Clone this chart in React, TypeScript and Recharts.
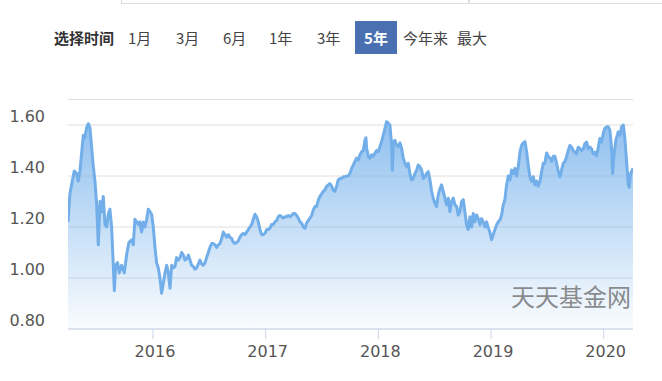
import React from 'react';
import { AreaChart, Area, XAxis, YAxis, CartesianGrid } from 'recharts';

// time as decimal year
const years = [
  2015.246, 2015.263, 2015.284, 2015.302, 2015.323, 2015.337, 2015.352, 2015.367, 2015.382, 2015.396,
  2015.411, 2015.426, 2015.441, 2015.456, 2015.470, 2015.485, 2015.500, 2015.515, 2015.530, 2015.544,
  2015.559, 2015.574, 2015.589, 2015.604, 2015.618, 2015.633, 2015.648, 2015.657, 2015.669, 2015.686,
  2015.701, 2015.722, 2015.746, 2015.766, 2015.787, 2015.811, 2015.825, 2015.840, 2015.855, 2015.870,
  2015.884, 2015.899, 2015.914, 2015.929, 2015.944, 2015.958, 2015.973, 2015.988, 2016.003, 2016.018,
  2016.032, 2016.047, 2016.062, 2016.077,
  2016.107, 2016.122, 2016.136, 2016.151, 2016.166, 2016.181, 2016.195, 2016.210, 2016.225, 2016.240,
  2016.255, 2016.269, 2016.284, 2016.299, 2016.314, 2016.329, 2016.343, 2016.358, 2016.373, 2016.388,
  2016.403, 2016.417, 2016.432, 2016.447, 2016.462, 2016.476, 2016.491, 2016.506, 2016.521, 2016.536,
  2016.550, 2016.565, 2016.580, 2016.595, 2016.610, 2016.624, 2016.639, 2016.654, 2016.669, 2016.683,
  2016.698, 2016.713, 2016.728, 2016.743, 2016.757, 2016.772, 2016.787, 2016.802, 2016.817, 2016.831,
  2016.846, 2016.861, 2016.876, 2016.890, 2016.905,
  2016.920, 2016.935, 2016.949, 2016.964, 2016.979, 2016.994, 2017.009, 2017.023, 2017.038, 2017.053,
  2017.068, 2017.082, 2017.097, 2017.112, 2017.127, 2017.142, 2017.156, 2017.171, 2017.186, 2017.201,
  2017.216, 2017.230, 2017.245, 2017.260, 2017.275, 2017.290, 2017.304, 2017.319, 2017.334, 2017.349,
  2017.363, 2017.378, 2017.393, 2017.408, 2017.423, 2017.437, 2017.452, 2017.467, 2017.482, 2017.497,
  2017.511, 2017.526, 2017.541, 2017.556, 2017.570, 2017.585, 2017.600, 2017.615, 2017.630, 2017.644,
  2017.659, 2017.674, 2017.689, 2017.704, 2017.718, 2017.733,
  2017.748, 2017.763, 2017.778, 2017.792, 2017.807, 2017.822, 2017.837, 2017.852, 2017.866, 2017.881,
  2017.890, 2017.896, 2017.911, 2017.925, 2017.940, 2017.955, 2017.970, 2017.985, 2017.999, 2018.014,
  2018.029, 2018.044, 2018.059, 2018.073, 2018.088, 2018.103, 2018.118, 2018.124, 2018.133, 2018.147,
  2018.162, 2018.177, 2018.192, 2018.206, 2018.221, 2018.236, 2018.251, 2018.266, 2018.280, 2018.295,
  2018.310, 2018.325, 2018.340, 2018.354, 2018.369, 2018.384, 2018.399, 2018.414, 2018.428, 2018.443,
  2018.458, 2018.473, 2018.487, 2018.502, 2018.517, 2018.532, 2018.547, 2018.561, 2018.576,
  2018.606, 2018.621, 2018.635, 2018.650, 2018.665, 2018.680, 2018.695, 2018.709, 2018.724, 2018.739,
  2018.754, 2018.768, 2018.783, 2018.798, 2018.813, 2018.828, 2018.842, 2018.857, 2018.872, 2018.887,
  2018.902, 2018.916, 2018.931, 2018.946, 2018.961, 2018.976, 2018.990, 2019.005, 2019.020, 2019.035,
  2019.049, 2019.064, 2019.079, 2019.094, 2019.109, 2019.123, 2019.138, 2019.153, 2019.168, 2019.183,
  2019.197, 2019.212, 2019.227, 2019.242, 2019.257, 2019.271, 2019.286, 2019.301, 2019.316, 2019.330,
  2019.345, 2019.360, 2019.375, 2019.390, 2019.404, 2019.419,
  2019.434, 2019.449, 2019.464, 2019.478, 2019.493, 2019.508, 2019.523, 2019.538, 2019.552, 2019.567,
  2019.582, 2019.597, 2019.612, 2019.626, 2019.641, 2019.656, 2019.671, 2019.685, 2019.700, 2019.715,
  2019.730, 2019.745, 2019.759, 2019.774, 2019.789, 2019.804, 2019.819, 2019.833, 2019.848, 2019.863,
  2019.878, 2019.892, 2019.907, 2019.922, 2019.937, 2019.952, 2019.966, 2019.981, 2019.996, 2020.011,
  2020.026, 2020.040, 2020.055, 2020.070, 2020.079, 2020.091, 2020.108, 2020.129, 2020.144, 2020.159,
  2020.174, 2020.188, 2020.203, 2020.218, 2020.227, 2020.239, 2020.260,
];

// accumulated net value
const nav = [
  1.22, 1.33, 1.38, 1.42, 1.41, 1.38, 1.42, 1.49, 1.56, 1.55,
  1.59, 1.605, 1.59, 1.51, 1.44, 1.38, 1.29, 1.13, 1.30, 1.26,
  1.32, 1.21, 1.20, 1.25, 1.27, 1.20, 1.05, 0.95, 1.05, 1.06,
  1.02, 1.05, 1.02, 1.09, 1.14, 1.15, 1.13, 1.23, 1.22, 1.21,
  1.22, 1.18, 1.22, 1.20, 1.23, 1.27, 1.26, 1.25, 1.20, 1.12,
  1.06, 1.04, 1.00, 0.94,
  1.02, 1.05, 1.02, 0.96, 1.05, 1.04, 1.045, 1.08, 1.07, 1.08,
  1.10, 1.09, 1.07, 1.075, 1.09, 1.07, 1.05, 1.045, 1.035, 1.04,
  1.055, 1.07, 1.055, 1.05, 1.06, 1.08, 1.10, 1.12, 1.135, 1.135,
  1.13, 1.12, 1.13, 1.135, 1.155, 1.18, 1.17, 1.16, 1.17, 1.16,
  1.155, 1.14, 1.135, 1.14, 1.145, 1.16, 1.17, 1.175, 1.17, 1.18,
  1.19, 1.20, 1.21, 1.23, 1.25,
  1.24, 1.22, 1.19, 1.17, 1.17, 1.175, 1.19, 1.19, 1.195, 1.21,
  1.21, 1.22, 1.225, 1.24, 1.245, 1.24, 1.235, 1.24, 1.24, 1.245,
  1.24, 1.245, 1.253, 1.253, 1.245, 1.235, 1.22, 1.215, 1.20, 1.195,
  1.215, 1.225, 1.235, 1.245, 1.267, 1.28, 1.28, 1.305, 1.32, 1.33,
  1.34, 1.345, 1.36, 1.365, 1.37, 1.36, 1.345, 1.34, 1.36, 1.385,
  1.39, 1.39, 1.397, 1.397, 1.40, 1.40,
  1.41, 1.43, 1.443, 1.457, 1.47, 1.463, 1.483, 1.495, 1.50, 1.54,
  1.55, 1.51, 1.477, 1.47, 1.483, 1.477, 1.49, 1.50, 1.495, 1.515,
  1.535, 1.56, 1.587, 1.613, 1.607, 1.60, 1.52, 1.423, 1.535, 1.54,
  1.52, 1.515, 1.53, 1.51, 1.47, 1.45, 1.437, 1.45, 1.41, 1.385,
  1.39, 1.41, 1.423, 1.443, 1.437, 1.423, 1.39, 1.397, 1.41, 1.417,
  1.385, 1.34, 1.313, 1.293, 1.28, 1.327, 1.35, 1.365, 1.34,
  1.287, 1.313, 1.26, 1.30, 1.313, 1.287, 1.28, 1.247, 1.26, 1.30,
  1.307, 1.26, 1.208, 1.19, 1.24, 1.20, 1.253, 1.22, 1.247, 1.233,
  1.208, 1.233, 1.22, 1.20, 1.22, 1.195, 1.18, 1.15, 1.17, 1.19,
  1.208, 1.22, 1.227, 1.247, 1.287, 1.307, 1.365, 1.40, 1.385, 1.423,
  1.41, 1.43, 1.40, 1.437, 1.495, 1.52, 1.53, 1.535, 1.495, 1.443,
  1.397, 1.38, 1.397, 1.365, 1.38, 1.36,
  1.378, 1.417, 1.45, 1.45, 1.49, 1.477, 1.47, 1.457, 1.477, 1.477,
  1.45, 1.417, 1.397, 1.423, 1.45, 1.457, 1.477, 1.50, 1.52, 1.513,
  1.50, 1.493, 1.487, 1.513, 1.507, 1.50, 1.507, 1.527, 1.533, 1.507,
  1.513, 1.507, 1.487, 1.493, 1.48, 1.513, 1.547, 1.533, 1.567, 1.587,
  1.593, 1.593, 1.58, 1.507, 1.41, 1.48, 1.54, 1.573, 1.56, 1.593,
  1.60, 1.547, 1.457, 1.365, 1.355, 1.41, 1.43,
];

const yTicks = [0.8, 1.0, 1.2, 1.4, 1.6];
const xTicks = [2016, 2017, 2018, 2019, 2020];
const rangeLabel = '选择时间';
const rangeButtons = ['1月', '3月', '6月', '1年', '3年', '5年', '今年来', '最大'];
const activeRange = '5年';
const watermark = '天天基金网';

const data = years.map((t, i) => ({ t, v: nav[i] }));

const buttonLeft = [128, 176, 223, 269, 317, 355, 403, 457];

const cjk = '"Noto Sans CJK SC", "Noto Sans", sans-serif';
const axisFont = '"DejaVu Sans", sans-serif';

const YTick = (props: any) => {
  const { x, y, payload } = props;
  return (
    <text x={x} y={y - 3} textAnchor="end" fill="#555" fontSize={16} fontFamily={axisFont}>
      {Number(payload.value).toFixed(2)}
    </text>
  );
};

const XTick = (props: any) => {
  const { x, y, payload } = props;
  return (
    <text x={x + 2} y={y + 14} textAnchor="middle" fill="#555" fontSize={16} fontFamily={axisFont}>
      {Math.round(payload.value)}
    </text>
  );
};

export default function App() {
  return (
    <div style={{ position: 'absolute', left: 0, top: 0, width: 662, height: 381, background: '#fff', overflow: 'hidden' }}>
      <div style={{ position: 'absolute', left: 121, top: -10, width: 347, height: 12, border: '1px solid #ddd' }} />
      <div style={{ position: 'absolute', left: 468, top: -10, width: 200, height: 12, border: '1px solid #ddd' }} />
      <div style={{ position: 'absolute', left: 54, top: 21, height: 33, lineHeight: '33px', fontFamily: cjk, fontSize: 15, fontWeight: 'bold', color: '#333' }}>
        {rangeLabel}
      </div>
      {rangeButtons.map((b, i) => {
        const active = b === activeRange;
        return active ? (
          <div key={b} style={{ position: 'absolute', left: buttonLeft[i], top: 21, width: 42, height: 33, lineHeight: '33px', textAlign: 'center', background: '#4a70b2', color: '#fff', fontFamily: cjk, fontSize: 15, fontWeight: 'bold' }}>
            {b}
          </div>
        ) : (
          <div key={b} style={{ position: 'absolute', left: buttonLeft[i], top: 21, height: 33, lineHeight: '33px', color: '#444', fontFamily: cjk, fontSize: 15 }}>
            {b}
          </div>
        );
      })}
      <div style={{ position: 'absolute', left: 0, top: 0 }}>
        <AreaChart width={662} height={381} data={data} margin={{ top: 99.5, right: 29, bottom: 22, left: 0 }}>
          <defs>
            <linearGradient id="navFill" x1="0" y1="0" x2="0" y2="1">
              <stop offset="0%" stopColor="#7cb5ec" stopOpacity={0.85} />
              <stop offset="100%" stopColor="#7cb5ec" stopOpacity={0.04} />
            </linearGradient>
          </defs>
          <CartesianGrid vertical={false} stroke="#dedede" />
          <XAxis
            dataKey="t"
            type="number"
            domain={[2015.246, 2020.26]}
            ticks={xTicks}
            allowDataOverflow
            height={30}
            tickSize={10}
            tickMargin={4}
            tickLine={{ stroke: '#ccd6eb' }}
            axisLine={{ stroke: '#ccd6eb' }}
            tick={<XTick />}
            interval={0}
          />
          <YAxis
            type="number"
            domain={[0.8, 1.7]}
            ticks={yTicks}
            width={68}
            tickSize={0}
            tickMargin={23}
            axisLine={false}
            tickLine={false}
            tick={<YTick />}
            interval={0}
          />
          <Area
            type="linear"
            dataKey="v"
            stroke="#72aee9"
            strokeWidth={3}
            strokeLinejoin="round"
            fill="url(#navFill)"
            fillOpacity={1}
            isAnimationActive={false}
            dot={false}
            activeDot={false}
          />
        </AreaChart>
      </div>
      <div style={{ position: 'absolute', left: 511, top: 283, lineHeight: '26px', fontFamily: cjk, fontSize: 24, color: 'rgba(110,110,110,0.8)', pointerEvents: 'none' }}>
        {watermark}
      </div>
    </div>
  );
}
